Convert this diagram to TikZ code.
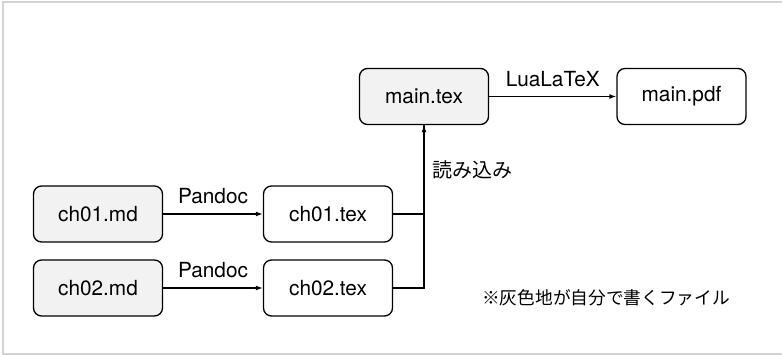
\documentclass[tikz,border=0pt]{standalone}
\usepackage{fontspec}
\setmainfont{TeX Gyre Heros}
\newfontfamily\jpfont{Noto Sans CJK JP}
\usepackage{xcolor}
\usepackage{tikz}
\usetikzlibrary{shapes,arrows.meta}
\tikzstyle{fileblock} = [rectangle, draw, line width=1.3pt, rounded corners=8pt, minimum width=129pt, minimum height=56pt, align=center, font=\fontsize{20.8}{24}\selectfont]
\tikzstyle{srcblock} = [fileblock, fill=bgray]
\tikzstyle{frame} = [line width=2pt, draw=bframe]
\tikzstyle{arrow} = [draw, line width=1.4pt, -{Latex[length=7pt, width=5pt]}]
\tikzstyle{wire} = [draw, line width=1.4pt]
\tikzstyle{annotext} = [font=\fontsize{20.8}{24}\selectfont, inner sep=2pt]
\tikzstyle{arrowtext} = [annotext, above, yshift=7pt]
\definecolor{bgray}{HTML}{F2F2F2}
\definecolor{bframe}{HTML}{D4D4D4}
\begin{document}
\begin{tikzpicture}[x=1pt, y=-1pt]
    \useasboundingbox (0, 0) rectangle (782, 355);
    \draw[frame] (3, 2) rectangle (784, 354);
    % sources
    \node[srcblock] at (98, 214) (ch01md) {ch01.md};
    \node[srcblock] at (98, 288) (ch02md) {ch02.md};
    \node[fileblock] at (328, 214) (ch01tex) {ch01.tex};
    \node[fileblock] at (328, 288) (ch02tex) {ch02.tex};
    \path[arrow] (ch01md.east) to node[arrowtext] (pan1) {Pandoc} (ch01tex.west);
    \path[arrow] (ch02md.east) to node[arrowtext] (pan2) {Pandoc} (ch02tex.west);
    % main
    \node[srcblock] at (424, 96.5) (maintex) {main.tex};
    \node[fileblock] at (681.5, 96.5) (mainpdf) {main.pdf};
    \path[arrow] (maintex.east) to node[arrowtext] (lua) {LuaLaTeX} (mainpdf.west);
    \path[wire] (ch01tex.east) -| (maintex.south);
    \path[arrow] (ch02tex.east) -| (maintex.south);
    \node[annotext, anchor=west, font=\fontsize{20}{24}\selectfont] at (430, 170) (read) {\jpfont 読み込み};
    % note
    \node[annotext, anchor=west, font=\fontsize{17.7}{22}\selectfont] at (480, 298) (note) {\jpfont ※灰色地が自分で書くファイル};
\end{tikzpicture}
\end{document}
